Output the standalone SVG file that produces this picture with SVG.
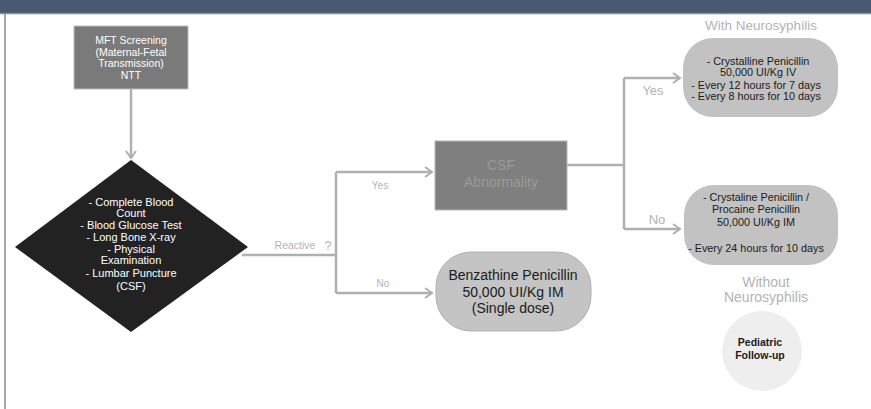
<svg xmlns="http://www.w3.org/2000/svg" width="871" height="409" viewBox="0 0 871 409">
<style>
.t{font-family:"Liberation Sans",Arial,sans-serif;text-anchor:middle}
.w{fill:#ffffff}
.k{fill:#1a1a1a}
.lbl{fill:#b3b3b3}
.c{fill:none;stroke:#b0b0b0;stroke-width:2.5}
</style>
<defs>
<marker id="ah" markerWidth="12" markerHeight="12" refX="9" refY="6" orient="auto" markerUnits="userSpaceOnUse">
<path d="M2,1 L9,6 L2,11" fill="none" stroke="#b0b0b0" stroke-width="2"/>
</marker>
</defs>
<rect x="0" y="0" width="871" height="409" fill="#ffffff"/>
<rect x="0" y="0" width="871" height="13" fill="#475a72"/>
<line x1="0" y1="13.5" x2="871" y2="13.5" stroke="#8a8a8a" stroke-width="1.5"/>
<line x1="5" y1="13" x2="5" y2="409" stroke="#8a8a8a" stroke-width="1.5"/>

<g id="connectors">
<path class="c" d="M131,89 L131,158" marker-end="url(#ah)"/>
<path class="c" d="M242,255 L336,255 M336,172 L336,293"/>
<path class="c" d="M336,172 L432,172" marker-end="url(#ah)"/>
<path class="c" d="M336,293 L432,293" marker-end="url(#ah)"/>
<path class="c" d="M567,165 L624,165 M624,78 L624,229"/>
<path class="c" d="M624,78 L680,78" marker-end="url(#ah)"/>
<path class="c" d="M624,229 L680,229" marker-end="url(#ah)"/>
<text class="t lbl" x="295" y="249" font-size="10.5">Reactive</text>
<text class="t lbl" x="328" y="250" font-size="13">?</text>
<text class="t lbl" x="380" y="189" font-size="10">Yes</text>
<text class="t lbl" x="383" y="287" font-size="10">No</text>
<text class="t lbl" x="653" y="95" font-size="13">Yes</text>
<text class="t lbl" x="657" y="224" font-size="13">No</text>
</g>

<g id="mft">
<rect x="74" y="26" width="114" height="63" fill="#7a7a7a" stroke="#bdbdbd" stroke-width="1"/>
<text class="t w" x="131" y="44" font-size="10.5">MFT Screening</text>
<text class="t w" x="131" y="56" font-size="10.5">(Maternal-Fetal</text>
<text class="t w" x="131" y="67" font-size="10.5">Transmission)</text>
<text class="t w" x="131" y="79" font-size="10.5">NTT</text>
</g>

<g id="tests">
<polygon points="131,160 248,247 131,332 15,247" fill="#222222"/>
<text class="t w" x="131" y="206" font-size="11">- Complete Blood</text>
<text class="t w" x="131" y="217" font-size="11">Count</text>
<text class="t w" x="131" y="229" font-size="11">- Blood Glucose Test</text>
<text class="t w" x="131" y="241" font-size="11">- Long Bone X-ray</text>
<text class="t w" x="131" y="253" font-size="11">- Physical</text>
<text class="t w" x="131" y="264" font-size="11">Examination</text>
<text class="t w" x="131" y="277" font-size="11">- Lumbar Puncture</text>
<text class="t w" x="131" y="290" font-size="11">(CSF)</text>
</g>

<g id="csf">
<rect x="435" y="141" width="132" height="69" fill="#7f7f7f" stroke="#b8b8b8" stroke-width="1"/>
<text class="t" x="501" y="170" font-size="14" fill="#9a9a9a">CSF</text>
<text class="t" x="501" y="187" font-size="14" fill="#9a9a9a">Abnormality</text>
</g>

<g id="benzathine">
<rect x="436" y="252" width="155" height="79" rx="35" fill="#c4c4c4" stroke="#b0b0b0" stroke-width="1"/>
<text class="t k" x="513" y="280" font-size="14">Benzathine Penicillin</text>
<text class="t k" x="513" y="297" font-size="14">50,000 UI/Kg IM</text>
<text class="t k" x="513" y="313" font-size="14">(Single dose)</text>
</g>

<g id="with-neuro">
<text class="t lbl" x="761" y="30" font-size="13.5">With Neurosyphilis</text>
<rect x="683" y="38" width="155" height="79" rx="30" fill="#c2c2c2"/>
<text class="t k" x="758" y="65" font-size="10.8">- Crystalline Penicillin</text>
<text class="t k" x="758" y="76" font-size="10.8">50,000 UI/Kg IV</text>
<text class="t k" x="756" y="89" font-size="10.8">- Every 12 hours for 7 days</text>
<text class="t k" x="756" y="100" font-size="10.8">- Every 8 hours for 10 days</text>
</g>

<g id="crystaline-procaine">
<rect x="684" y="185" width="154" height="80" rx="30" fill="#c2c2c2"/>
<text class="t k" x="756" y="201" font-size="10.8">- Crystaline Penicillin /</text>
<text class="t k" x="756" y="213" font-size="10.8">Procaine Penicillin</text>
<text class="t k" x="756" y="226" font-size="10.8">50,000 UI/Kg IM</text>
<text class="t k" x="756" y="252" font-size="10.8">- Every 24 hours for 10 days</text>
</g>

<g id="without-neuro">
<text class="t lbl" x="766" y="287" font-size="14">Without</text>
<text class="t lbl" x="766" y="302" font-size="14">Neurosyphilis</text>
<circle cx="762" cy="351" r="40" fill="#eeeeee"/>
<text class="t k" x="760" y="346" font-size="10.5" font-weight="bold">Pediatric</text>
<text class="t k" x="760" y="359" font-size="10.5" font-weight="bold">Follow-up</text>
</g>
</svg>
